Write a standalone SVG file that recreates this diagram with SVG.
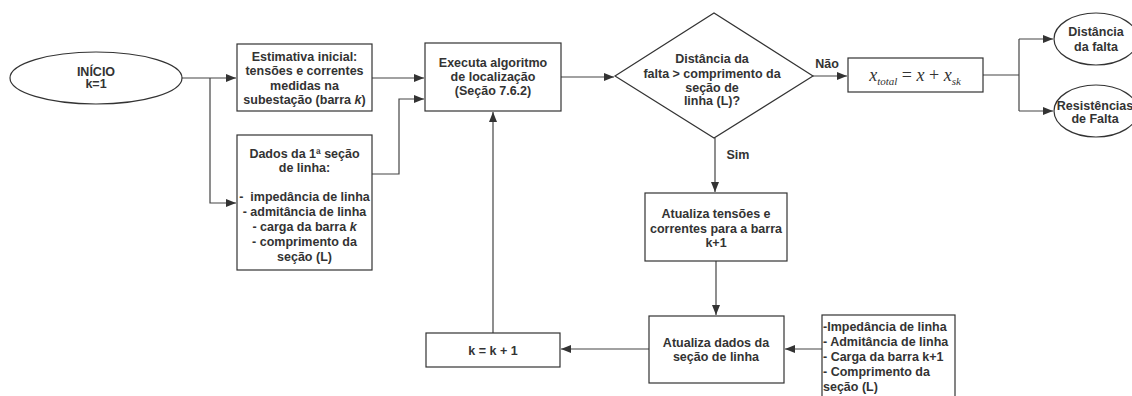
<svg xmlns="http://www.w3.org/2000/svg" width="1132" height="396" viewBox="0 0 1132 396">
<style>
.box{fill:#fff;stroke:#333;stroke-width:1.2}
.ln{fill:none;stroke:#444;stroke-width:1.2}
text{font-family:"Liberation Sans",Arial,sans-serif;font-size:12.5px;font-weight:bold;fill:#333;white-space:pre}
.c{text-anchor:middle}
.math{font-family:"Liberation Serif","Times New Roman",serif;font-weight:normal;font-size:18px;fill:#333}
</style>
<defs>
<marker id="ah" markerWidth="10" markerHeight="8" refX="10" refY="4" orient="auto" markerUnits="userSpaceOnUse">
<path d="M0,0 L10,4 L0,8 Z" fill="#333"/>
</marker>
</defs>
<rect width="1132" height="396" fill="#fff"/>

<g id="connectors">
<path class="ln" d="M182,78 H236" marker-end="url(#ah)"/>
<path class="ln" d="M210,78 V203 H236" marker-end="url(#ah)"/>
<path class="ln" d="M372,78 H424" marker-end="url(#ah)"/>
<path class="ln" d="M372,174 H399 V99 H424" marker-end="url(#ah)"/>
<path class="ln" d="M561,77 H614" marker-end="url(#ah)"/>
<path class="ln" d="M813,76 H847" marker-end="url(#ah)"/>
<path class="ln" d="M715,138 V192" marker-end="url(#ah)"/>
<path class="ln" d="M716,261 V315" marker-end="url(#ah)"/>
<path class="ln" d="M822,349 H785" marker-end="url(#ah)"/>
<path class="ln" d="M649,349 H561" marker-end="url(#ah)"/>
<path class="ln" d="M493,333 V112" marker-end="url(#ah)"/>
<path class="ln" d="M983,75 H1019"/>
<path class="ln" d="M1019,39 V111"/>
<path class="ln" d="M1019,39 H1053" marker-end="url(#ah)"/>
<path class="ln" d="M1019,111 H1053" marker-end="url(#ah)"/>
<text x="827" y="68" class="c">Não</text>
<text x="738" y="159" class="c">Sim</text>
</g>

<g id="inicio">
<ellipse class="box" cx="96" cy="78" rx="86" ry="26"/>
<text x="96" y="76" class="c">INÍCIO</text>
<text x="96" y="88" class="c">k=1</text>
</g>

<g id="estimativa">
<rect class="box" x="237" y="44" width="135" height="67"/>
<text x="304.5" y="60.5" class="c">Estimativa inicial:</text>
<text x="304.5" y="75" class="c">tensões e correntes</text>
<text x="304.5" y="89.5" class="c">medidas na</text>
<text x="304.5" y="104" class="c">subestação (barra <tspan font-style="italic">k</tspan>)</text>
</g>

<g id="dados">
<rect class="box" x="237" y="135" width="135" height="135"/>
<text x="304.5" y="157.5" class="c">Dados da 1ª seção</text>
<text x="304.5" y="171.5" class="c">de linha:</text>
<text x="304.5" y="200.5" class="c">-  impedância de linha</text>
<text x="304.5" y="215.5" class="c">- admitância de linha</text>
<text x="304.5" y="230.5" class="c">- carga da barra <tspan font-style="italic">k</tspan></text>
<text x="304.5" y="245.5" class="c">- comprimento da</text>
<text x="304.5" y="260.5" class="c">seção (L)</text>
</g>

<g id="executa">
<rect class="box" x="425" y="43" width="136" height="68"/>
<text x="493" y="66.5" class="c">Executa algoritmo</text>
<text x="493" y="80.5" class="c">de localização</text>
<text x="493" y="94.5" class="c">(Seção 7.6.2)</text>
</g>

<g id="decisao">
<polygon class="box" points="615,76 714,13 813,76 714,138"/>
<text x="712" y="62.5" class="c">Distância da</text>
<text x="712" y="77.5" class="c">falta &gt; comprimento da</text>
<text x="712" y="91.5" class="c">seção de</text>
<text x="712" y="104.5" class="c">linha (L)?</text>
</g>

<g id="xtotal">
<rect class="box" x="848" y="58" width="135" height="34"/>
<text x="915" y="81" class="math c"><tspan font-style="italic">x</tspan><tspan font-style="italic" font-size="11" dy="4">total</tspan><tspan dy="-4"> = </tspan><tspan font-style="italic">x</tspan><tspan> + </tspan><tspan font-style="italic">x</tspan><tspan font-style="italic" font-size="11" dy="4">sk</tspan></text>
</g>

<g id="distancia">
<ellipse class="box" cx="1096" cy="39" rx="42" ry="26"/>
<text x="1096" y="36" class="c">Distância</text>
<text x="1096" y="51" class="c">da falta</text>
</g>

<g id="resistencias">
<ellipse class="box" cx="1096" cy="111" rx="42" ry="26"/>
<text x="1095" y="110" class="c">Resistências</text>
<text x="1095" y="123" class="c">de Falta</text>
</g>

<g id="atualiza-tensoes">
<rect class="box" x="645" y="193" width="142" height="68"/>
<text x="716" y="218" class="c">Atualiza tensões e</text>
<text x="716" y="233" class="c">correntes para a barra</text>
<text x="716" y="247" class="c">k+1</text>
</g>

<g id="atualiza-dados">
<rect class="box" x="649" y="316" width="135" height="67"/>
<text x="716" y="347" class="c">Atualiza dados da</text>
<text x="716" y="361" class="c">seção de linha</text>
</g>

<g id="k-incremento">
<rect class="box" x="426" y="333" width="134" height="34"/>
<text x="493" y="355" class="c">k = k + 1</text>
</g>

<g id="dados-secao">
<rect class="box" x="822" y="315" width="133" height="90"/>
<text x="823" y="331">-Impedância de linha</text>
<text x="823" y="346">- Admitância de linha</text>
<text x="823" y="361">- Carga da barra k+1</text>
<text x="823" y="376">- Comprimento da</text>
<text x="823" y="391">seção (L)</text>
</g>
</svg>
